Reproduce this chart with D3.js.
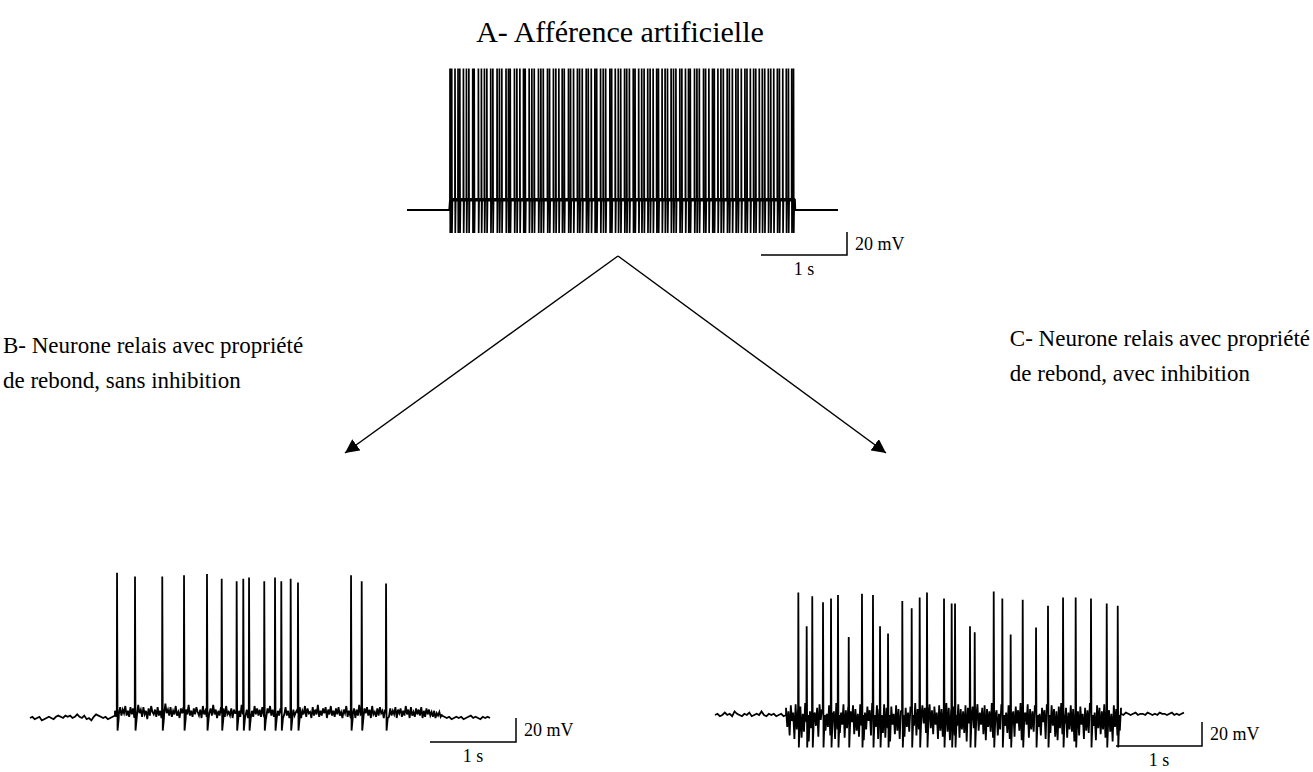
<!DOCTYPE html>
<html><head><meta charset="utf-8">
<script src="https://cdn.jsdelivr.net/npm/d3@7"></script>
<style>
body{margin:0;background:#fff}
svg{display:block}
text{font-family:"Liberation Serif","Times New Roman","DejaVu Serif",serif;fill:#000}
</style>
</head><body>
<svg id="fig" width="1313" height="772"></svg>
<script>
// ---------- Recorded traces (time in s, potential in mV) ----------

// A: artificial afferent, 4 s stimulation; spike times in ms
const aSpikesMs = [500,520,558,593,614,656,691,719,764,781,830,865,900,928,973,998,1047,1074,1102,1151,1179,1200,1249,1277,1312,1354,1374,1420,1451,1479,1528,1556,1584,1633,1657,1702,1730,1765,1804,1828,1877,1901,1936,1981,2006,2037,2083,2107,2142,2184,2205,2250,2281,2309,2358,2379,2421,2456,2484,2529,2554,2585,2630,2651,2693,2728,2756,2798,2826,2861,2902,2923,2965,3000,3028,3070,3098,3126,3171,3195,3237,3272,3293,3342,3370,3398,3447,3471,3509,3551,3572,3614,3649,3677,3722,3747,3782,3823,3848,3886,3928,3952,3991,4029,4054,4095,4130,4158,4200,4228,4263,4305,4329,4368,4409,4434,4472,4493];
const aLevels = {rest: -65, plateau: -56, peak: 58, trough: -85};
const aWindow = [0, 5.01];          // recording span
const aStim = [0.5, 4.51];          // stimulation span

// B: relay neuron with rebound property, no inhibition
const bSpikeTimes = [1.012,1.221,1.538,1.791,2.058,2.229,2.403,2.480,2.547,2.724,2.849,2.922,3.031,3.116,3.733,3.857,4.140];
const bSpikePeaks = [56,53,53,54,55,51,49,51,52,49,52,49,51,48,54,49,47];
const bSpans = [[0,0.988],[0.988,4.79],[4.79,5.349]];
const bPre = [0,1,-1,0,1,-2,-1,0,1,0,-1,1,2,1,0,2,1,2,0,1,3,1,0,2,-1,0,-2,1,3,2,1,0,1,-1,0,1,2];
const bActive = [6,1,8,3,9,2,7,4,10,2,6,1,9,3,8,0,5,2,11,4,7,1,9,3,6,-1,8,2,10,5,3,7,1,9,2,6,0,8,3,12,4,7,2,9,1,6,3,10,2,5,0,8,4,9,1,7,3,11,2,6,1,8,3,9,5,2,7,0,10,3,6,1,9,4,8,2,11,3,7,0,6,2,9,4,8,1,10,3,5,2,8,0,7,4,9,2,6,1,11,3,8,2,7,0,9,4,6,1,10,3,8,2,7,1,9,3,6,0,8,4,10,2,7,1,9,3,6,2,8,1,7,3,9,2,6,0,8,1,7,2,5,
  7,2,9,0,6,3,10,1,8,4,5,0,9,2,7,3,11,1,6,2,8,4,9,0,7,3,10,2,6,1,8,3,9,2,5,0,7,4,10,1,6,2,9,3,8,0,7,2,11,3,6,1,8,4,9,2,7,0,10,3,5,1,8,2,9,4,6,0,7,3,10,1,8,2,6,3,9,0,7,4,8,1,6,2,10,3,7,0,9,2,5,1,8,3,7,2,9,0,6,1,8,3,7,2,5,1,6,0,4,2,5,1,3];
const bPost = [2,1,0,1,-1,0,1,0,1,-1,0,1,2,0,1,0,-1,1,0,1,0];

// C: relay neuron with rebound property, with inhibition
const cSpikeTimes = [0.969,1.066,1.131,1.256,1.349,1.430,1.555,1.709,1.837,1.919,2.012,2.178,2.287,2.380,2.465,2.663,2.752,2.791,2.965,3.020,3.241,3.341,3.438,3.578,3.733,3.872,4.047,4.194,4.372,4.555,4.683];
const cSpikePeaks = [37,9,34,29,32,35,0,36,35,9,3,30,24,33,37,32,28,28,9,4,38,32,2,31,8,26,33,33,32,28,26];
const cSpans = [[0,0.826],[0.826,4.721],[4.721,5.453]];
const cPre = [0,1,-1,0,2,0,1,-1,3,1,0,-1,1,0,2,-1,0,1,0,3,0,-1,1,0,1,-1,0,1,-1,0];
const cActive = [6,-10,3,-17,8,-5,2,-20,9,-12,4,-8,7,-19,1,-14,10,-6,5,-22,3,-11,8,-16,2,-9,6,-18,9,-4,4,-21,7,-13,1,-10,8,-17,5,-7,3,-20,10,-12,6,-15,2,-8,9,-19,4,-11,7,-22,3,-6,8,-16,5,-13,1,-18,9,-9,6,-21,2,-12,7,-5,4,-17,10,-14,3,-10,8,-20,5,-7,2,-15,9,-19,6,-11,4,-22,7,-8,1,-16,8,-13,5,-20,3,-6,9,-18,6,-10,2,-14,7,-21,4,-9,10,-17,5,-12,3,-19,8,-7,6,-15,1,-22,9,-11,4,-16,7,-8,2,-20,8,-13,5,-18,3,-6,10,-14,6,-21,4,-10,7,-17,2,-9,9,-19,5,-12,3,-15,8,-22,6,-7,1,-18,7,-11,4,-20,9,-13,2,-8,6,-16,8,-21,5,-10,3,-14,10,-19,7,-6,4,-17,1,-12,9,-22,6,-9,2,-15,8,-20,5,-11,3,-18,7,-7,4,-13,10,-21,6,-16,2,-8,9,-19,5,-12,3,-14,8,-22,7,-10,1,-17,6,-6,4,-20,9,-13,2,-15,8,-9,5,-18,3,-21,7,-11,10,-16,4,-7,6,-19,2,-12,8,-14,5,-22,9,-10,3,-17,7,-8,1,-20,6,-13,4,-15,10,-18,5,-9,2,-21,8,-11,6,-16,3,-12,9,-19,7,-7,4,-14,1,-22,8,-10,5,-17,3,-13,6];
const cPost = [1,0,2,1,0,1,2,0,1,1,0,2,1,0,1,0,2,1,1,0,1,2,0,1,0,1,2];

const restB = -65, restC = -65;

// ---------- Drawing ----------
const svg = d3.select("#fig");
const line = d3.line().x(d => d[0]).y(d => d[1]);

function trace(x, y, segs, spikes, rest, trough) {
  // segs: [[t0,t1,samples]], samples are offsets from rest
  let pts = [];
  segs.forEach(([t0, t1, s]) => {
    s.forEach((v, i) => pts.push([t0 + (t1 - t0) * i / (s.length - 1), rest + v]));
  });
  spikes.forEach(([ts]) => { pts = pts.filter(p => p[0] < ts - 0.003 || p[0] > ts + 0.02); });
  spikes.forEach(([ts, pk]) => {
    pts.push([ts - 0.003, rest + 4], [ts, pk], [ts + 0.006, trough], [ts + 0.02, rest]);
  });
  pts.sort((a, b) => a[0] - b[0]);
  return pts.map(p => [x(p[0]), y(p[1])]);
}

// 1 s / 20 mV calibration bar, corner at (px, py + 20 mV)
function scaleBar(x, y, px, py) {
  const w = x(1) - x(0), h = y(0) - y(20);
  const g = svg.append("g");
  g.append("path").attr("d", `M${px - w},${py + h}H${px}V${py}`)
    .attr("fill", "none").attr("stroke", "#000").attr("stroke-width", 1.5);
  g.append("text").attr("x", px + 8).attr("y", py + h / 2 + 6).attr("font-size", 18).text("20 mV");
  g.append("text").attr("x", px - w / 2).attr("y", py + h + 20).attr("font-size", 18)
    .attr("text-anchor", "middle").text("1 s");
}

// Panel A
const xA = d3.scaleLinear().domain(aWindow).range([407, 838]);
const yA = d3.scaleLinear().domain([-65, -45]).range([210, 187]);
{
  let pts = [[aWindow[0], aLevels.rest], [aStim[0] - 0.01, aLevels.rest]];
  aSpikesMs.forEach(ms => {
    const t = ms / 1000;
    pts.push([t - 0.001, aLevels.plateau], [t, aLevels.peak], [t + 0.003, aLevels.trough], [t + 0.008, aLevels.plateau]);
  });
  pts.push([aStim[1], aLevels.plateau], [aStim[1] + 0.004, aLevels.rest], [aWindow[1], aLevels.rest]);
  svg.append("path").attr("d", line(pts.map(p => [xA(p[0]), yA(p[1])])))
    .attr("fill", "none").attr("stroke", "#000").attr("stroke-width", 1.7);
  svg.append("path").attr("d", line([[aStim[0], aLevels.plateau], [aStim[1], aLevels.plateau]].map(p => [xA(p[0]), yA(p[1])])))
    .attr("stroke", "#000").attr("stroke-width", 3.5);
  [[aWindow[0], aStim[0]], [aStim[1], aWindow[1]]].forEach(([t0, t1]) => {
    svg.append("path").attr("d", line([[t0, aLevels.rest], [t1, aLevels.rest]].map(p => [xA(p[0]), yA(p[1])])))
      .attr("stroke", "#000").attr("stroke-width", 2.2);
  });
  scaleBar(xA, yA, 847, 232);
}

// Panel B
const xB = d3.scaleLinear().domain([0, 1]).range([30, 116]);
const yB = d3.scaleLinear().domain([-65, -45]).range([718, 694]);
{
  const pts = trace(xB, yB,
    [[bSpans[0][0], bSpans[0][1], bPre], [bSpans[1][0], bSpans[1][1], bActive], [bSpans[2][0], bSpans[2][1], bPost]],
    bSpikeTimes.map((t, i) => [t, bSpikePeaks[i]]), restB, -75.5);
  svg.append("path").attr("d", line(pts)).attr("fill", "none").attr("stroke", "#000").attr("stroke-width", 1.8);
  scaleBar(xB, yB, 516, 718);
}

// Panel C
const xC = d3.scaleLinear().domain([0, 1]).range([715, 801]);
const yC = d3.scaleLinear().domain([-65, -45]).range([715, 691]);
{
  const pts = trace(xC, yC,
    [[cSpans[0][0], cSpans[0][1], cPre], [cSpans[1][0], cSpans[1][1], cActive], [cSpans[2][0], cSpans[2][1], cPost]],
    cSpikeTimes.map((t, i) => [t, cSpikePeaks[i]]), restC, -92);
  svg.append("path").attr("d", line(pts)).attr("fill", "none").attr("stroke", "#000").attr("stroke-width", 1.8);
  scaleBar(xC, yC, 1202, 722);
}

// Arrows from A to B and C
svg.append("defs").append("marker").attr("id", "head")
  .attr("viewBox", "0 0 10 10").attr("refX", 10).attr("refY", 5)
  .attr("markerWidth", 14).attr("markerHeight", 14).attr("markerUnits", "userSpaceOnUse")
  .attr("orient", "auto")
  .append("path").attr("d", "M0,0L10,5L0,10Z").attr("fill", "#000");
[[345, 453], [886, 453]].forEach(([tx, ty]) => {
  svg.append("line").attr("x1", 618).attr("y1", 256).attr("x2", tx).attr("y2", ty)
    .attr("stroke", "#000").attr("stroke-width", 1.5).attr("marker-end", "url(#head)");
});

// Titles
svg.append("text").attr("x", 620).attr("y", 42).attr("text-anchor", "middle").attr("font-size", 30).text("A- Afférence artificielle");
svg.append("text").attr("x", 3).attr("y", 353).attr("font-size", 23).text("B- Neurone relais avec propriété");
svg.append("text").attr("x", 3).attr("y", 388).attr("font-size", 23).text("de rebond, sans inhibition");
const c1 = svg.append("text").attr("y", 346).attr("font-size", 23).text("C- Neurone relais avec propriété");
const c2 = svg.append("text").attr("y", 381).attr("font-size", 23).text("de rebond, avec inhibition");
const cx0 = 1310 - c1.node().getComputedTextLength();
c1.attr("x", cx0); c2.attr("x", cx0);
</script>
</body></html>
